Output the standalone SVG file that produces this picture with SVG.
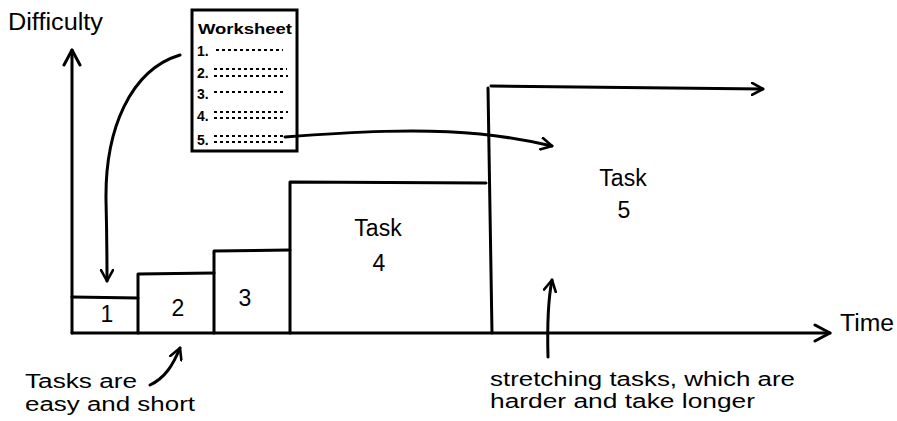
<svg xmlns="http://www.w3.org/2000/svg" width="897" height="421" viewBox="0 0 897 421">
<style>
.ln{fill:none;stroke:#000;stroke-width:3;stroke-linecap:round;stroke-linejoin:round}
.t{font-family:"Liberation Sans",Arial,sans-serif;font-size:23px;fill:#000}
.n{font-family:"Liberation Sans",Arial,sans-serif;font-size:20px;fill:#000}
.lab{font-family:"Liberation Sans",Arial,sans-serif;font-size:23px;fill:#000;text-anchor:middle}
.ws{font-family:"Liberation Sans",Arial,sans-serif;font-size:14px;font-weight:bold;fill:#000}
.dot{fill:none;stroke:#000;stroke-width:2;stroke-dasharray:3 3}
</style>
<defs>
<marker id="ah" viewBox="0 0 14 14" refX="12" refY="7" markerWidth="14" markerHeight="14" markerUnits="userSpaceOnUse" orient="auto">
<path d="M1,1 L12,7 L1,13" fill="none" stroke="#000" stroke-width="2.6" stroke-linecap="round" stroke-linejoin="round"/>
</marker>
<marker id="ahb" viewBox="0 0 20 20" refX="17" refY="10" markerWidth="20" markerHeight="20" markerUnits="userSpaceOnUse" orient="auto">
<path d="M2,2 L17,10 L2,18" fill="none" stroke="#000" stroke-width="3" stroke-linecap="round" stroke-linejoin="round"/>
</marker>
</defs>
<rect width="897" height="421" fill="#fff"/>

<g id="axes">
<path class="ln" d="M72,333 L72,50" marker-end="url(#ahb)"/>
<path class="ln" d="M72,333 L830,333" marker-end="url(#ahb)"/>
<text class="t" x="8" y="30" textLength="95" lengthAdjust="spacingAndGlyphs">Difficulty</text>
<text class="t" x="840" y="331" textLength="54" lengthAdjust="spacingAndGlyphs">Time</text>
</g>

<g id="task1">
<path class="ln" d="M72,297 L138,298"/>
<text class="lab" x="107" y="322">1</text>
</g>
<g id="task2">
<path class="ln" d="M138,333 L138,274 L214,273"/>
<text class="lab" x="178" y="316">2</text>
</g>
<g id="task3">
<path class="ln" d="M214,333 L214,251 L290,250"/>
<text class="lab" x="245" y="306">3</text>
</g>
<g id="task4">
<path class="ln" d="M290,333 L290,182 L486,183"/>
<text class="lab" x="378" y="236">Task</text>
<text class="lab" x="379" y="271">4</text>
</g>
<g id="task5">
<path class="ln" d="M488,88 L492,333"/>
<path class="ln" d="M491,86 L763,89" marker-end="url(#ah)"/>
<text class="lab" x="623" y="186">Task</text>
<text class="lab" x="624" y="218">5</text>
</g>

<g id="worksheet">
<rect x="192" y="10" width="105" height="141" fill="#fff" stroke="#000" stroke-width="3"/>
<text class="ws" x="198" y="34" font-size="16" textLength="94" lengthAdjust="spacingAndGlyphs">Worksheet</text>
<text class="ws" x="197" y="56">1.</text>
<path class="dot" d="M216,50 L283,50"/>
<text class="ws" x="197" y="78">2.</text>
<path class="dot" d="M214,69 L287,69 M214,76 L288,76"/>
<text class="ws" x="197" y="99">3.</text>
<path class="dot" d="M214,92 L284,92"/>
<text class="ws" x="197" y="121">4.</text>
<path class="dot" d="M214,112 L288,112 M214,118 L283,118"/>
<text class="ws" x="197" y="145">5.</text>
<path class="dot" d="M214,136 L284,136 M214,142 L285,142"/>
</g>

<g id="labels">
<text class="n" x="25" y="388" textLength="112" lengthAdjust="spacingAndGlyphs">Tasks are</text>
<text class="n" x="25" y="411" textLength="170" lengthAdjust="spacingAndGlyphs">easy and short</text>
<text class="n" x="490" y="386" textLength="305" lengthAdjust="spacingAndGlyphs">stretching tasks, which are</text>
<text class="n" x="490" y="408" textLength="265" lengthAdjust="spacingAndGlyphs">harder and take longer</text>
</g>

<g id="connectors">
<path class="ln" d="M180,55 C130,70 105,130 106,200 C107,240 107,265 107,281" marker-end="url(#ah)"/>
<path class="ln" d="M285,137 C350,132 420,128 480,134 C510,137 530,141 552,146" marker-end="url(#ah)"/>
<path class="ln" d="M150,385 C165,378 173,365 180,348" marker-end="url(#ah)"/>
<path class="ln" d="M548,357 C547,320 548,300 552,280" marker-end="url(#ah)"/>
</g>
</svg>
